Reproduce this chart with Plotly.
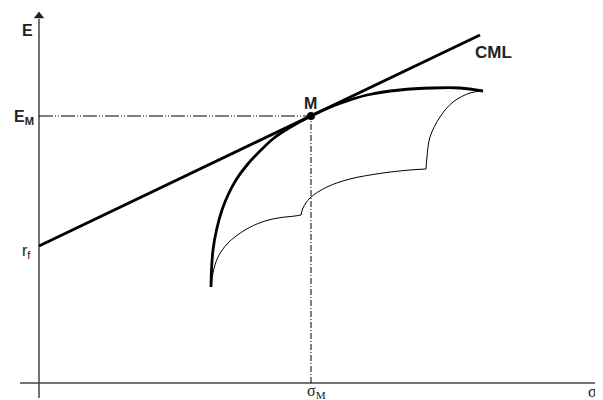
import plotly.graph_objects as go

# ---- data (sigma, E) in chart units; origin at axes intersection ----
rf = 137
cml_sigma = [0, 441]
cml_E = [137, 348]

M_sigma = [272]
M_E = [267]

frontier_sigma = [172, 172.5, 174, 177.5, 183, 189, 197, 208, 222, 235, 250, 272, 294, 311, 328, 361, 394, 421, 444]
frontier_E = [96, 113, 133, 153, 173, 188, 203, 218, 233, 245, 255, 267, 277, 283, 288, 293, 295, 295, 292]

lower1_sigma = [172, 174, 179, 189, 206, 223, 239, 256, 262]
lower1_E = [96, 110, 126, 140, 153, 161, 165, 167, 168]
lower2_sigma = [262, 264, 271, 288, 311, 344, 371, 387]
lower2_E = [168, 175, 185, 196, 204, 210, 213, 214]
lower3_sigma = [387, 388, 391, 401, 414, 431, 444]
lower3_E = [214, 226, 246, 266, 281, 290, 292]

axis_sigma = [-19, 556]
axis_E = [-15, 364]

fig = go.Figure()

axis_col = "#444444"

# axes
fig.add_trace(go.Scatter(x=[0, 0], y=axis_E, mode="lines",
                         line=dict(color=axis_col, width=1.5),
                         hoverinfo="skip", showlegend=False))
fig.add_trace(go.Scatter(x=axis_sigma, y=[0, 0], mode="lines",
                         line=dict(color=axis_col, width=1.5),
                         hoverinfo="skip", showlegend=False))
fig.add_trace(go.Scatter(x=[0], y=[axis_E[1] + 3], mode="markers",
                         marker=dict(symbol="triangle-up", size=9, color="#222222"),
                         hoverinfo="skip", showlegend=False))
fig.add_trace(go.Scatter(x=[axis_sigma[1] + 3], y=[0], mode="markers",
                         marker=dict(symbol="triangle-right", size=9, color="#222222"),
                         hoverinfo="skip", showlegend=False))

# guide lines to M
fig.add_trace(go.Scatter(x=[0, M_sigma[0]], y=[M_E[0], M_E[0]], mode="lines",
                         line=dict(color="black", width=1, dash="14px,2px,1px,2px,1px,2px"),
                         hoverinfo="skip", showlegend=False))
fig.add_trace(go.Scatter(x=[M_sigma[0], M_sigma[0]], y=[0, M_E[0]], mode="lines",
                         line=dict(color="black", width=1, dash="6px,2px,1px,2px"),
                         hoverinfo="skip", showlegend=False))

# lower (thin) boundary
for xs, ys in [(lower1_sigma, lower1_E), (lower2_sigma, lower2_E), (lower3_sigma, lower3_E)]:
    fig.add_trace(go.Scatter(x=xs, y=ys, mode="lines",
                             line=dict(color="black", width=1, shape="spline", smoothing=1),
                             hoverinfo="skip", showlegend=False))

# efficient frontier (thick)
fig.add_trace(go.Scatter(x=frontier_sigma, y=frontier_E, mode="lines",
                         line=dict(color="black", width=2.8, shape="spline", smoothing=1),
                         hoverinfo="skip", showlegend=False))

# CML
fig.add_trace(go.Scatter(x=cml_sigma, y=cml_E, mode="lines",
                         line=dict(color="black", width=2.8),
                         hoverinfo="skip", showlegend=False))

# M point
fig.add_trace(go.Scatter(x=M_sigma, y=M_E, mode="markers",
                         marker=dict(color="black", size=8),
                         hoverinfo="skip", showlegend=False))

txt_col = "#222222"
sans_b = dict(family="Liberation Sans", size=16, color=txt_col)
serif = dict(family="Liberation Serif", size=16, color=txt_col)

fig.add_annotation(x=-12, y=353, text="<b>E</b>", showarrow=False, font=sans_b)
fig.add_annotation(x=-15, y=M_E[0] - 1, text="<b>E<sub>M</sub></b>", showarrow=False, font=sans_b)
fig.add_annotation(x=-13, y=rf - 5, text="r<sub>f</sub>", showarrow=False,
                   font=dict(family="Liberation Sans", size=16, color=txt_col))
fig.add_annotation(x=M_sigma[0] + 5, y=-8, text="σ<sub>M</sub>", showarrow=False, font=serif)
fig.add_annotation(x=553, y=-8, text="σ", showarrow=False, font=serif)
fig.add_annotation(x=454, y=331, text="<b>CML</b>", showarrow=False,
                   font=dict(family="Liberation Sans", size=17, color=txt_col))
fig.add_annotation(x=M_sigma[0] - 1, y=280, text="<b>M</b>", showarrow=False, font=sans_b)

# page body has an 8px margin: ranges compensate so the drawing sits where the reference has it
fig.update_layout(
    width=603, height=400,
    margin=dict(l=0, r=0, t=0, b=0),
    paper_bgcolor="white", plot_bgcolor="white",
    xaxis=dict(range=[-31, 572], visible=False, fixedrange=True),
    yaxis=dict(range=[-25, 375], visible=False, fixedrange=True),
)

fig.write_html("out.html")
